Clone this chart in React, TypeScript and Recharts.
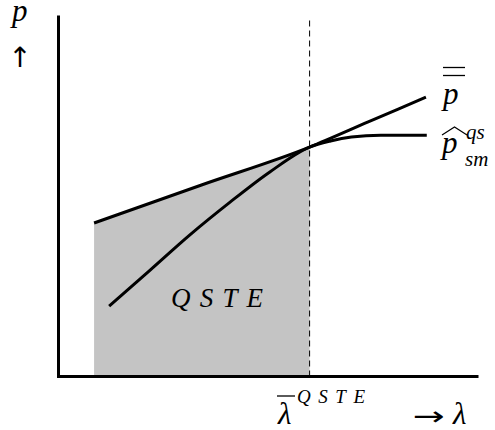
import { ComposedChart, Line, Area, XAxis, YAxis, ReferenceLine, ReferenceDot } from "recharts";

// λ runs along the horizontal axis, p up the vertical one, both on a 0–10 scale
const LAMBDA_QSTE = 6;

// upper bound p̿
const upperLambda = [0.85, 3.4, 6, 7.4, 8.78];
const upperP = [4.27, 5.32, 6.38, 7.08, 7.77];

// quasi-static estimate p̂_sm^qs
const smLambda = [1.21, 2.19, 3.14, 4.1, 5.05, 6, 6.5, 7.0, 7.7, 8.8];
const smP = [1.96, 2.96, 3.94, 4.85, 5.69, 6.38, 6.55, 6.66, 6.71, 6.71];

const upper = upperLambda.map((lam, i) => ({ lam, p: upperP[i] }));
const sm = smLambda.map((lam, i) => ({ lam, p: smP[i] }));
// the QSTE region: under p̿ up to λ̄
const shade = upper.filter((d) => d.lam <= LAMBDA_QSTE);

// where the region's name sits (left end of the baseline)
const regionLabel = { lam: 2.69, p: 1.94 };

const SERIF = "Liberation Serif";
const ARROWS = "DejaVu Sans";

function Math({ children, size, ...rest }: any) {
  return (
    <text
      fontSize={size}
      fontFamily={SERIF}
      fontStyle="italic"
      fill="#000"
      style={{ fontFamily: `'${SERIF}'`, fontStyle: "italic" }}
      {...rest}
    >
      {children}
    </text>
  );
}

function Arrow({ children, ...rest }: any) {
  return (
    <text fontFamily={ARROWS} fill="#000" style={{ fontFamily: `'${ARROWS}'`, fontStyle: "normal" }} {...rest}>
      {children}
    </text>
  );
}

function Labels() {
  return (
    <g>
      <Math x={12} y={21} size={31}>p</Math>
      <Arrow x={20} y={67} fontSize={28} textAnchor="middle">↑</Arrow>

      <Math x={443} y={104} size={31}>p</Math>
      <line x1={443} x2={465} y1={67.5} y2={67.5} stroke="#000" strokeWidth={1.3} />
      <line x1={443} x2={465} y1={75.5} y2={75.5} stroke="#000" strokeWidth={1.3} />

      <Math x={442} y={153} size={31}>p</Math>
      <polyline points="442,135 454.5,127 467,135" fill="none" stroke="#000" strokeWidth={1.2} />
      <Math x={466} y={139} size={21}>qs</Math>
      <Math x={465} y={166} size={21}>sm</Math>

      <Math x={278} y={424} size={31}>λ</Math>
      <line x1={277} x2={295} y1={396} y2={396} stroke="#000" strokeWidth={1.3} />
      <Math x={297} y={403} size={19} textLength={68} lengthAdjust="spacing">QSTE</Math>

      <Arrow x={413} y={425} fontSize={26} textLength={32} lengthAdjust="spacingAndGlyphs">→</Arrow>
      <Math x={453} y={424} size={31}>λ</Math>
    </g>
  );
}

function RegionName(props: any) {
  const { x, y } = props.viewBox;
  return (
    <Math x={x} y={y} size={27} textLength={92} lengthAdjust="spacing">
      QSTE
    </Math>
  );
}

export default function App() {
  return (
    <div style={{ position: "absolute", left: 0, top: 0, background: "#fff" }}>
      <ComposedChart width={495} height={430} margin={{ top: 17, right: 18, bottom: 53.5, left: 58.5 }}>
        <XAxis type="number" dataKey="lam" domain={[0, 10]} allowDataOverflow hide />
        <YAxis type="number" domain={[0, 10]} allowDataOverflow hide />
        <Area
          data={shade}
          dataKey="p"
          type="linear"
          fill="#c4c4c4"
          fillOpacity={1}
          stroke="none"
          isAnimationActive={false}
        />
        <ReferenceLine x={LAMBDA_QSTE} stroke="#000" strokeWidth={1} strokeDasharray="6 4" />
        {/* axes */}
        <ReferenceLine x={0} stroke="#000" strokeWidth={3} strokeLinecap="square" />
        <ReferenceLine y={0} stroke="#000" strokeWidth={3} strokeLinecap="square" />
        <Line data={upper} dataKey="p" type="monotone" stroke="#000" strokeWidth={3} dot={false} isAnimationActive={false} />
        <Line data={sm} dataKey="p" type="monotone" stroke="#000" strokeWidth={3} dot={false} isAnimationActive={false} />
        <ReferenceDot x={regionLabel.lam} y={regionLabel.p} r={0} stroke="none" fill="none" label={<RegionName />} />
        <Labels />
      </ComposedChart>
    </div>
  );
}
